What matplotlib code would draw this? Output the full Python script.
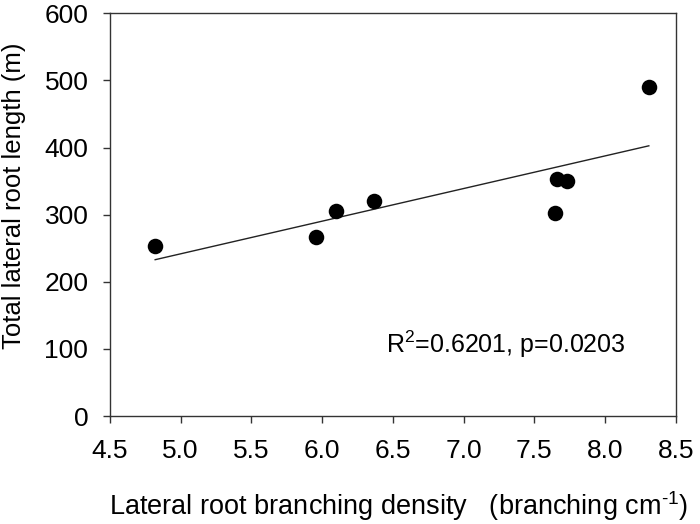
import numpy as np
import matplotlib
matplotlib.use('Agg')
import matplotlib.pyplot as plt

# Datos
densidad = [4.82, 5.96, 6.10, 6.37, 7.65, 7.66, 7.73, 8.31]
longitud = [254, 267, 306, 320, 303, 353, 350, 490]

xticks = [4.5, 5.0, 5.5, 6.0, 6.5, 7.0, 7.5, 8.0, 8.5]
yticks = [0, 100, 200, 300, 400, 500, 600]

plt.rcParams['font.family'] = ['Liberation Sans', 'DejaVu Sans']
plt.rcParams['mathtext.fontset'] = 'custom'
plt.rcParams['mathtext.rm'] = 'Liberation Sans'
plt.rcParams['mathtext.it'] = 'Liberation Sans'

fig = plt.figure(figsize=(7, 5.24), dpi=100)
ax = fig.add_axes([0.157, 0.2061, 0.8083, 0.7685])

ax.scatter(densidad, longitud, s=125, color='black', zorder=3, linewidths=0)

# Recta de regresion
pend, inter = np.polyfit(densidad, longitud, 1)
xr = np.array([min(densidad), max(densidad)])
ax.plot(xr, pend * xr + inter, color='#222222', lw=1.0)

ax.set_xlim(4.5, 8.5)
ax.set_ylim(0, 600)
ax.set_xticks(xticks)
ax.set_xticklabels(['%.1f' % v for v in xticks])
ax.set_yticks(yticks)

for s in ax.spines.values():
    s.set_color('#333333')
    s.set_linewidth(1.0)
ax.tick_params(direction='out', length=5, width=1.0, color='#333333',
               labelsize=19, top=False, right=False)
ax.tick_params(axis='x', pad=11.5)
ax.tick_params(axis='y', pad=10.5)

ax.set_ylabel('Total lateral root length (m)', fontsize=18.5)
ax.yaxis.set_label_coords(-0.1485, 0.546)
ax.set_xlabel(r'Lateral root branching density   (branching cm$^{\text{-}1}$)',
              fontsize=19.5, va='baseline')
ax.xaxis.set_label_coords(0.51, -0.2458)

ax.text(0.488, 0.156, 'R$^2$=0.6201, p=0.0203', transform=ax.transAxes,
        fontsize=18, ha='left', va='baseline')

fig.savefig('out.png', dpi=100)
